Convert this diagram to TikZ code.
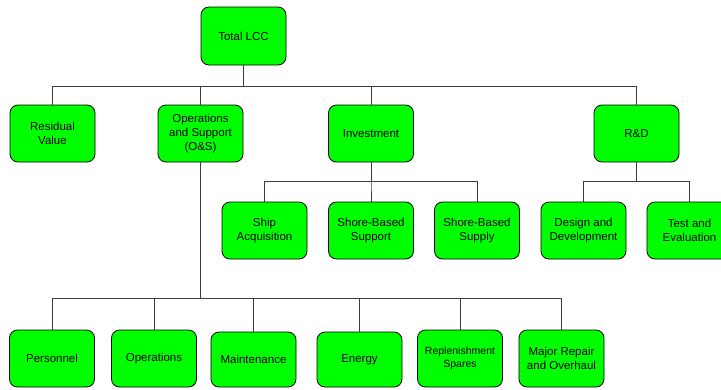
\documentclass[tikz,border=0pt]{standalone}
\usepackage{fontspec}
\setmainfont{Liberation Sans}
\definecolor{boxgreen}{RGB}{0,255,0}
\definecolor{linegray}{RGB}{60,60,60}

\begin{document}
\begin{tikzpicture}[x=1pt, y=-1pt,
	cost/.style={draw=black, line width=0.8pt, fill=boxgreen, rounded corners=8pt,
		minimum width=85pt, minimum height=57pt, inner sep=1pt, align=center,
		font=\fontsize{11.5}{14}\selectfont},
	conn/.style={draw=linegray, line width=1pt}]
	\useasboundingbox (0,0) rectangle (721,389);
	\clip (0,0) rectangle (721,389);
	
	% bus lines
	\coordinate (busTop) at (0,86);
	\coordinate (busMid) at (0,181);
	\coordinate (busLow) at (0,298);
	
	\node[cost, minimum height=58pt] (lcc) at (243.5,36) {Total LCC};
	
	\node[cost] (resid) at (52.5,133.5) {Residual\\Value};
	\node[cost] (ons) at (200.5,133.5) {Operations\\and Support\\(O\&S)};
	\node[cost] (invest) at (371,133.5) {Investment};
	\node[cost] (rnd) at (636.5,133.5) {R\&D};
	
	\node[cost] (ship) at (264.5,230.5) {Ship\\Acquisition};
	\node[cost] (shoresup) at (371,230.5) {Shore-Based\\Support};
	\node[cost] (shoresply) at (477,230.5) {Shore-Based\\Supply};
	\node[cost] (design) at (583.5,230.5) {Design and\\Development};
	\node[cost] (test) at (689.5,230.5) {Test and\\Evaluation};
	
	\node[cost] (pers) at (52,358.5) {Personnel};
	\node[cost] (oper) at (154,358.5) {Operations};
	\node[cost, minimum height=55pt] (maint) at (253.5,359.5) {Maintenance};
	\node[cost, minimum height=55pt] (energy) at (359.5,359.5) {Energy};
	\node[cost, font=\fontsize{10.5}{13}\selectfont] (repl) at (460,358.5) {Replenishment\\Spares};
	\node[cost] (major) at (561.5,358.5) {Major Repair\\and Overhaul};
	
	\foreach \c in {resid,ons,invest,rnd}
		\draw[conn] (lcc.south) -- (lcc.south |- busTop) -| (\c.north);
	\foreach \c in {ship,shoresup,shoresply}
		\draw[conn] (invest.south) -- (invest.south |- busMid) -| (\c.north);
	\foreach \c in {design,test}
		\draw[conn] (rnd.south) -- (rnd.south |- busMid) -| (\c.north);
	\foreach \c in {pers,oper,maint,energy,repl,major}
		\draw[conn] (ons.south) -- (ons.south |- busLow) -| (\c.north);
	
\end{tikzpicture}
\end{document}
